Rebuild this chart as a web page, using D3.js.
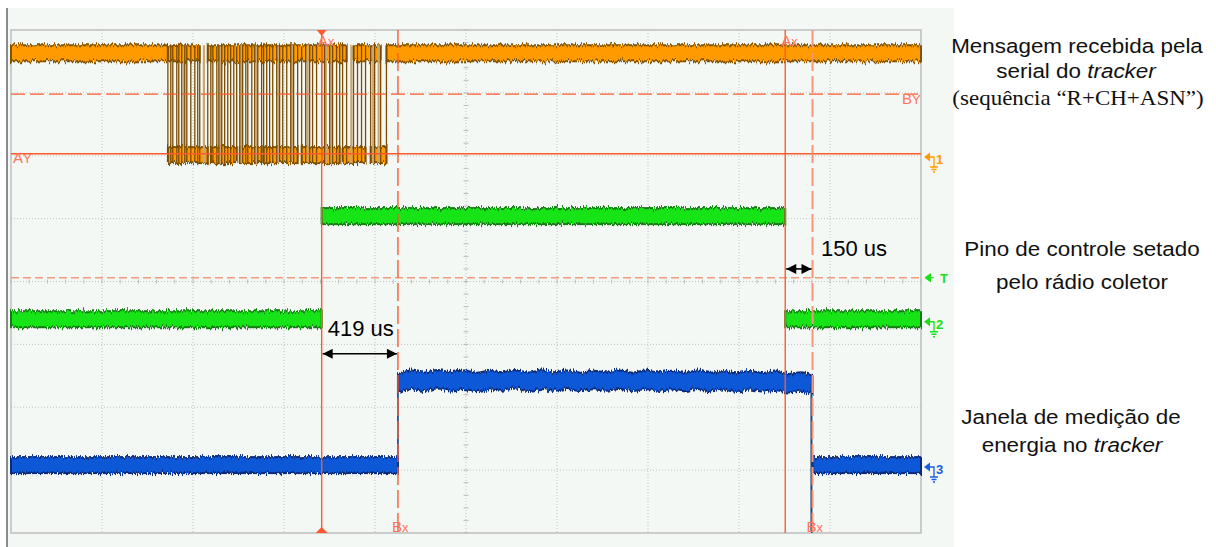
<!DOCTYPE html>
<html>
<head>
<meta charset="utf-8">
<script src="https://cdn.jsdelivr.net/npm/d3@7"></script>
<style>
body { margin: 0; background: #fff; }
text { font-family: "Liberation Sans", Arial, sans-serif; }
</style>
</head>
<body>
<div id="scope"></div>
<script>
// time base 500 us/div, 10 divisions; vertical 8 divisions
var timeTicks = [0, 500, 1000, 1500, 2000, 2500, 3000, 3500, 4000, 4500, 5000];
var divTicks = [-4, -3, -2, -1, 0, 1, 2, 3, 4];

// channel 1 (serial message), levels in divisions
var ch1Segments = [[0, 862, 3.63], [2063, 5000, 3.63]];
var burstSpan = [862, 2063];
var burstHigh = 3.63;
var burstLow = 2.01;
var burstEdges = [862, 878, 889, 911, 922, 938, 955, 966, 988, 1010, 1026, 1037, 1081, 1098, 1109, 1131,
    1142, 1158, 1174, 1191, 1207, 1224, 1240, 1257, 1273, 1290, 1301, 1323, 1339, 1356, 1377, 1388,
    1405, 1421, 1438, 1460, 1476, 1493, 1515, 1537, 1553, 1575, 1597, 1619, 1641, 1657, 1679, 1707,
    1723, 1751, 1767, 1789, 1806, 1822, 1844, 1882, 1904, 1926, 1948, 1976, 1998, 2031, 2063];
var burstGhostEdges = [950, 1060, 1150, 1265, 1350, 1470, 1545, 1630, 1730, 1760, 1870, 1990, 2020];
var topGaps = [[1037, 1081], [1844, 1882], [2031, 2063]];
var bottomGaps = [[1081, 1098], [1240, 1257], [1377, 1388], [1575, 1597], [1806, 1822], [1948, 1976]];

// channel 2 (control pin)
var ch2Segments = [[0, 1707, -0.60], [1707, 4254, 1.04], [4254, 5000, -0.60]];

// channel 3 (energy window)
var ch3Segments = [[0, 2126, -2.92], [4404, 5000, -2.92]];
var ch3RippleT = [2126, 2201, 2272, 2343, 2415, 2486, 2557, 2629, 2700, 2771, 2843, 2914, 2986, 3057, 3128,
    3200, 3271, 3342, 3414, 3485, 3556, 3628, 3699, 3770, 3842, 3913, 3984, 4056, 4127, 4198, 4270, 4341, 4404];
var ch3RippleV = [-1.62, -1.53, -1.63, -1.52, -1.62, -1.53, -1.63, -1.54, -1.62, -1.52, -1.63, -1.53, -1.62, -1.53,
    -1.63, -1.54, -1.62, -1.53, -1.63, -1.53, -1.62, -1.54, -1.63, -1.53, -1.63, -1.54, -1.64, -1.54, -1.63, -1.55,
    -1.65, -1.56, -1.65];

// cursors
var xCursors = [
    {name: "A", t: 1707, dashed: false, top: true},
    {name: "B", t: 2126, dashed: true, top: false},
    {name: "A", t: 4254, dashed: false, top: true},
    {name: "B", t: 4404, dashed: true, top: false}
];
var ayLevel = 2.03;
var byLevel = 2.98;
var trigLevel = 0.06;
var refLevels = [1.98, -0.64, -2.95];
var refLabels = ["1", "2", "3"];

// measured deltas
var deltas = [[1707, 2126, -1.15, "419 us"], [4254, 4404, 0.20, "150 us"]];

// side labels
var label1 = ["Mensagem recebida pela", "serial do ", "tracker", "(sequência \u201CR+CH+ASN\u201D)"];
var label2 = ["Pino de controle setado", "pelo rádio coletor"];
var label3 = ["Janela de medição de", "energia no ", "tracker"];

var width = 1216, height = 547;
var cursorColor = "#ff5a2e";

var svg = d3.select("#scope").append("svg")
    .attr("width", width)
    .attr("height", height);

var x = d3.scaleLinear().domain([0, 5000]).range([11, 921]);
var y = d3.scaleLinear().domain([-4, 4]).range([533, 30]);

// jitter filter for the noisy traces
var defs = svg.append("defs");
var f = defs.append("filter").attr("id", "fuzz")
    .attr("filterUnits", "userSpaceOnUse")
    .attr("x", 0).attr("y", 0).attr("width", width).attr("height", height);
f.append("feTurbulence").attr("type", "fractalNoise").attr("baseFrequency", "0.8 0.04")
    .attr("numOctaves", 2).attr("seed", 4).attr("result", "n");
f.append("feColorMatrix").attr("in", "n").attr("type", "matrix")
    .attr("values", "0 0 0 0 0.5  0 1 0 0 0  0 0 0 0 0  0 0 0 0 1").attr("result", "m");
f.append("feDisplacementMap").attr("in", "SourceGraphic").attr("in2", "m")
    .attr("scale", 8).attr("xChannelSelector", "R").attr("yChannelSelector", "G");

defs.append("marker").attr("id", "ah")
    .attr("viewBox", "0 0 10 10").attr("refX", 10).attr("refY", 5)
    .attr("markerWidth", 13).attr("markerHeight", 10).attr("markerUnits", "userSpaceOnUse")
    .attr("orient", "auto-start-reverse")
  .append("path").attr("d", "M0,0 L10,5 L0,10 z").attr("fill", "#000");

// scope panel
svg.append("rect").attr("x", 7).attr("y", 8).attr("width", 947).attr("height", 539).attr("fill", "#f4f8f5");
svg.append("line").attr("x1", 7).attr("x2", 7).attr("y1", 8).attr("y2", 547)
    .attr("stroke", "#666").attr("stroke-width", 1.5);

// grid
var grid = svg.append("g");
grid.selectAll(".vg").data(timeTicks.slice(1, -1)).enter().append("line")
    .attr("x1", function(d) { return x(d); }).attr("x2", function(d) { return x(d); })
    .attr("y1", y(4)).attr("y2", y(-4))
    .attr("stroke", "#c2c2c2").attr("stroke-dasharray", "1,2");
grid.selectAll(".hg").data(divTicks.slice(1, -1)).enter().append("line")
    .attr("y1", function(d) { return y(d); }).attr("y2", function(d) { return y(d); })
    .attr("x1", x(0)).attr("x2", x(5000))
    .attr("stroke", "#c2c2c2").attr("stroke-dasharray", "1,2");
grid.selectAll(".mx").data(d3.range(0, 5001, 100)).enter().append("line")
    .attr("x1", function(d) { return x(d); }).attr("x2", function(d) { return x(d); })
    .attr("y1", y(0) - 2).attr("y2", y(0) + 2)
    .attr("stroke", "#bbb");
grid.selectAll(".my").data(d3.range(-4, 4.01, 0.2)).enter().append("line")
    .attr("y1", function(d) { return y(d); }).attr("y2", function(d) { return y(d); })
    .attr("x1", x(2500) - 2.5).attr("x2", x(2500) + 2.5)
    .attr("stroke", "#bbb");
grid.append("rect").attr("x", x(0)).attr("y", y(4))
    .attr("width", x(5000) - x(0)).attr("height", y(-4) - y(4))
    .attr("fill", "none").attr("stroke", "#bdbdbd").attr("stroke-width", 1.5);

var band = 8 / 62.875;

function drawSegments(g, segs, core, edge) {
    g.selectAll(null).data(segs).enter().append("rect")
        .attr("x", function(d) { return x(d[0]); })
        .attr("width", function(d) { return x(d[1]) - x(d[0]); })
        .attr("y", function(d) { return y(d[2] + band); })
        .attr("height", function(d) { return y(d[2] - band) - y(d[2] + band); })
        .attr("fill", core).attr("stroke", edge).attr("stroke-width", 2);
}

function minusGaps(span, gaps) {
    var out = [], s = span[0];
    gaps.forEach(function(g) { out.push([s, g[0]]); s = g[1]; });
    out.push([s, span[1]]);
    return out;
}

var traces = svg.append("g").attr("filter", "url(#fuzz)");

// channel 1
var g1 = traces.append("g");
drawSegments(g1, ch1Segments, "#ff9a00", "#7e5200");
drawSegments(g1, minusGaps(burstSpan, topGaps).map(function(d) { return [d[0], d[1], burstHigh]; }), "#ff9a00", "#7e5200");
drawSegments(g1, minusGaps(burstSpan, bottomGaps).map(function(d) { return [d[0], d[1], burstLow]; }), "#ff9a00", "#7e5200");
g1.selectAll(".ghost").data(burstGhostEdges).enter().append("line")
    .attr("x1", function(d) { return x(d); }).attr("x2", function(d) { return x(d); })
    .attr("y1", y(burstHigh + band)).attr("y2", y(burstLow - band))
    .attr("stroke", "#c9a676").attr("stroke-width", 2.2);
g1.selectAll(".edge").data(burstEdges).enter().append("line")
    .attr("x1", function(d) { return x(d); }).attr("x2", function(d) { return x(d); })
    .attr("y1", y(burstHigh + band)).attr("y2", y(burstLow - band))
    .attr("stroke", "#7a4c00").attr("stroke-width", 1.3);

// channel 2
var g2 = traces.append("g");
drawSegments(g2, ch2Segments, "#14e414", "#127a12");

// channel 3
var g3 = traces.append("g");
drawSegments(g3, ch3Segments, "#0a58d6", "#0a2c78");
var ripple = ch3RippleT.map(function(t, i) { return [t, ch3RippleV[i]]; });
g3.append("path").datum(ripple)
    .attr("d", d3.area()
        .x(function(d) { return x(d[0]); })
        .y0(function(d) { return y(d[1] - band - 0.02); })
        .y1(function(d) { return y(d[1] + band + 0.02); })
        .curve(d3.curveBasis))
    .attr("fill", "#0a58d6").attr("stroke", "#0a2c78").attr("stroke-width", 2);
g3.append("line").attr("x1", x(2126)).attr("x2", x(2126))
    .attr("y1", y(-2.92)).attr("y2", y(-1.6)).attr("stroke", "#0a2c78").attr("stroke-width", 1.5);
g3.append("line").attr("x1", x(4398)).attr("x2", x(4398))
    .attr("y1", y(-1.63)).attr("y2", y(-4)).attr("stroke", "#2a4478").attr("stroke-width", 2);

// cursors
var cur = svg.append("g");
cur.append("line").attr("x1", x(0)).attr("x2", x(5000)).attr("y1", y(ayLevel)).attr("y2", y(ayLevel))
    .attr("stroke", cursorColor).attr("stroke-width", 1.5);
cur.append("line").attr("x1", x(0)).attr("x2", x(5000)).attr("y1", y(byLevel)).attr("y2", y(byLevel))
    .attr("stroke", cursorColor).attr("stroke-width", 1.3).attr("stroke-dasharray", "14,5");
cur.append("line").attr("x1", x(0)).attr("x2", x(5000)).attr("y1", y(trigLevel)).attr("y2", y(trigLevel))
    .attr("stroke", "#f39a7c").attr("stroke-width", 1.5).attr("stroke-dasharray", "8,4");
cur.selectAll(".xc").data(xCursors).enter().append("line")
    .attr("x1", function(d) { return x(d.t); }).attr("x2", function(d) { return x(d.t); })
    .attr("y1", y(4)).attr("y2", y(-4))
    .attr("stroke", function(d, i) { return i == 3 ? "#f5977a" : cursorColor; })
    .attr("stroke-width", function(d, i) { return i == 3 ? 2 : 1.4; })
    .attr("stroke-dasharray", function(d) { return d.dashed ? "18,5" : null; });
// triangle markers on first A cursor
cur.append("path").attr("d", "M" + (x(1707) - 5) + "," + y(4) + " h10 l-5,6 z").attr("fill", cursorColor);
cur.append("path").attr("d", "M" + (x(1707) - 6) + "," + y(-4) + " h12 l-6,-6 z").attr("fill", cursorColor);

function cursorLabel(px, py, a, sub) {
    var t = cur.append("text").attr("x", px).attr("y", py)
        .attr("fill", "#ff7456").style("font-size", "15px");
    t.append("tspan").text(a);
    t.append("tspan").style("font-size", "13px").text(sub);
}
xCursors.forEach(function(d) {
    if (d.top) cursorLabel(x(d.t) - 4, 46, d.name, "x");
    else cursorLabel(x(d.t) - 6, 532, d.name, "x");
});
cursorLabel(13, y(ayLevel) + 9, "A", "Y");
cursorLabel(902, y(byLevel) + 10, "B", "Y");

// channel reference markers on the right edge
var refColors = ["#ff9a00", "#19e019", "#1a5ee0"];
refLevels.forEach(function(lv, i) {
    var py = y(lv), px = 924;
    var c = refColors[i];
    cur.append("path").attr("d", "M" + px + "," + py + " l6,-4.5 v9 z").attr("fill", c);
    cur.append("path")
        .attr("d", "M" + (px + 5) + "," + py + " h5 v10 M" + (px + 6) + "," + (py + 10) + " h8 M" + (px + 7.5) + "," + (py + 12.5) + " h5 M" + (px + 9) + "," + (py + 15) + " h2")
        .attr("stroke", c).attr("stroke-width", 1.3).attr("fill", "none");
    cur.append("text").attr("x", px + 12).attr("y", py + 7).attr("fill", c)
        .style("font-size", "13px").style("font-weight", "bold").text(refLabels[i]);
});
var ty = y(trigLevel);
cur.append("path").attr("d", "M925," + ty + " l5.5,-4 v8 z M929," + ty + " h5").attr("fill", "#19e019").attr("stroke", "#19e019");
cur.append("text").attr("x", 940).attr("y", ty + 5).attr("fill", "#19e019")
    .style("font-size", "13px").style("font-weight", "bold").text("T");

// delta annotations
var ann = svg.append("g");
deltas.forEach(function(d) {
    ann.append("line").attr("x1", x(d[0]) + 1).attr("x2", x(d[1]) - 1)
        .attr("y1", y(d[2])).attr("y2", y(d[2]))
        .attr("stroke", "#000").attr("stroke-width", 1.6)
        .attr("marker-start", "url(#ah)").attr("marker-end", "url(#ah)");
});
ann.append("text").attr("x", x(1707) + 6).attr("y", 336).style("font-size", "22px").text(deltas[0][3]);
ann.append("text").attr("x", 821).attr("y", 256).style("font-size", "22px").text(deltas[1][3]);

// side labels
var side = svg.append("g");
function sideLine(cx, by, parts, serif) {
    var g = side.append("g").attr("transform", "translate(" + cx + "," + by + ") scale(1.15,1)");
    var t = g.append("text").attr("text-anchor", "middle").style("font-size", "19.5px").attr("fill", "#111");
    if (serif) t.style("font-family", "'Liberation Serif', 'Times New Roman', serif").style("font-size", "20px");
    parts.forEach(function(p, i) {
        t.append("tspan").style("font-style", i == 1 ? "italic" : "normal").text(p);
    });
}
sideLine(1077, 53, [label1[0]]);
sideLine(1076, 78, [label1[1], label1[2]]);
sideLine(1078, 105, [label1[3]], true);
sideLine(1082, 256, [label2[0]]);
sideLine(1082, 289, [label2[1]]);
sideLine(1071, 424, [label3[0]]);
sideLine(1072, 452, [label3[1], label3[2]]);
</script>
</body>
</html>
